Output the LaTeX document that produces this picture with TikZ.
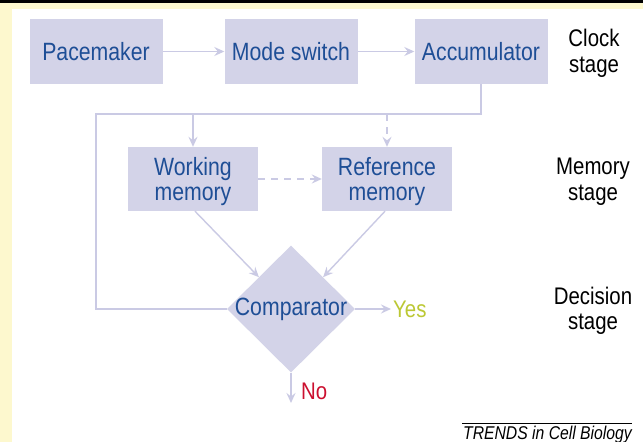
\documentclass[tikz,border=0pt]{standalone}
\usepackage{fontspec}
\setmainfont{Liberation Sans}[FakeStretch=0.85]
\usetikzlibrary{arrows.meta,shapes.geometric}

\definecolor{boxfill}{RGB}{211,211,232}
\definecolor{linklav}{RGB}{202,202,228}
\definecolor{boxtextblue}{RGB}{30,78,150}
\definecolor{yesgreen}{RGB}{188,200,52}
\definecolor{nored}{RGB}{204,16,48}
\definecolor{frameyellow}{RGB}{253,248,206}

\tikzset{
  stagebox/.style={fill=boxfill, draw=none, minimum width=133, minimum height=65,
    inner sep=0pt, align=center, text=boxtextblue,
    font=\fontsize{25}{25}\selectfont},
  memorybox/.style={stagebox, minimum width=130, minimum height=64, text depth=0pt},
  boxlabel/.style={text=boxtextblue, inner sep=0pt, font=\fontsize{25}{25}\selectfont},
  stagelabel/.style={align=center, text=black, inner sep=0pt, text depth=0pt,
    font=\fontsize{24}{25.5}\selectfont},
  link/.style={draw=linklav, line width=1.4pt},
  arrowlink/.style={link, -{Stealth[length=10pt, width=9pt, inset=3.5pt]}},
  dashlink/.style={arrowlink, dash pattern=on 7pt off 6pt},
  outcome/.style={inner sep=2pt, font=\fontsize{24}{24}\selectfont}
}

\begin{document}
\begin{tikzpicture}[x=1pt, y=-1pt]
  \useasboundingbox (0,0) rectangle (643,442);
  % page frame: white field, pale yellow margin, black top rule
  \fill[white] (0,0) rectangle (643,442);
  \fill[frameyellow] (0,3) rectangle (643,9);
  \fill[frameyellow] (0,3) rectangle (12,442);
  \fill[black] (0,0) rectangle (643,3);

  % clock stage
  \node[stagebox] (pace) at (96,51.5)  {Pacemaker};
  \node[stagebox] (mode) at (291,51.5) {Mode switch};
  \node[stagebox] (acc)  at (481,51.5) {Accumulator};

  % memory stage
  \node[memorybox] (wm) at (193,179) {Working\\memory};
  \node[memorybox] (rm) at (387,179) {Reference\\memory};

  % decision stage
  \node[diamond, fill=boxfill, minimum width=128, minimum height=127,
        inner sep=0pt] (cmp) at (291,309) {};
  \node[boxlabel] (cmptext) at (cmp.center) {Comparator};
  \node[outcome, text=yesgreen, anchor=west] (yes) at (391,309) {Yes};
  \node[outcome, text=nored, anchor=west] (no) at (299,391) {No};

  % stage names
  \node[stagelabel] (clocklbl)    at (594,51)  {Clock\\stage};
  \node[stagelabel] (memorylbl)   at (593,179) {Memory\\stage};
  \node[stagelabel] (decisionlbl) at (593,308.5) {Decision\\stage};

  % credit line
  \node[inner sep=0pt, font=\fontsize{18.5}{18.5}\selectfont\itshape,
        anchor=north east] (credit) at (632,426) {TRENDS in Cell Biology};
  \draw[black, line width=0.7pt] (462,423.5) -- (632,423.5);

  % connectors
  \coordinate (loopcorner) at (96,114);
  \coordinate (noend) at (291,403);

  \draw[arrowlink] (pace) -- (mode);
  \draw[arrowlink] (mode) -- (acc);

  \draw[link] (acc.south) |- (loopcorner) |- (cmp.west);
  \draw[arrowlink] (wm.north |- loopcorner) -- (wm.north);
  \draw[dashlink] (rm.north |- loopcorner) -- (rm.north);
  \draw[dashlink] (wm.east) -- (rm.west);

  \draw[arrowlink] ([xshift=2pt]wm.south) -- (cmp.north west);
  \draw[arrowlink] ([xshift=-2pt]rm.south) -- (cmp.north east);

  \draw[arrowlink] (cmp.east) -- (yes.west);
  \draw[arrowlink] (cmp.south) -- (noend);
\end{tikzpicture}
\end{document}
